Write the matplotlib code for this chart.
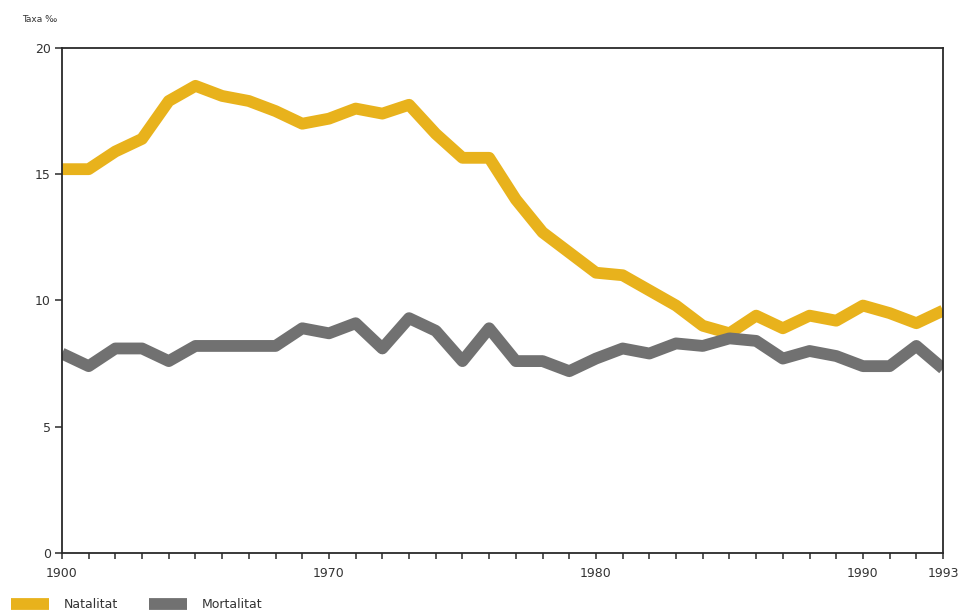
import matplotlib.pyplot as plt
import numpy as np

# anys i taxes (per mil)
anys = list(range(1960, 1994))
natalitat = [15.2, 15.2, 15.9, 16.4, 17.9, 18.5, 18.1, 17.9, 17.5, 17.0,
             17.2, 17.6, 17.4, 17.75, 16.6, 15.65, 15.65, 14.0, 12.7, 11.9,
             11.1, 11.0, 10.4, 9.8, 9.0, 8.7, 9.4, 8.9, 9.4, 9.2,
             9.8, 9.5, 9.1, 9.6]
mortalitat = [7.9, 7.4, 8.1, 8.1, 7.6, 8.2, 8.2, 8.2, 8.2, 8.9,
              8.7, 9.1, 8.1, 9.3, 8.8, 7.6, 8.9, 7.6, 7.6, 7.2,
              7.7, 8.1, 7.9, 8.3, 8.2, 8.5, 8.4, 7.7, 8.0, 7.8,
              7.4, 7.4, 8.2, 7.3]

etiquetesAnys = {1960: "1900", 1970: "1970", 1980: "1980", 1990: "1990", 1993: "1993"}

colorNat = "#E8B21C"
colorMort = "#717171"

fig = plt.figure(figsize=(9.62, 6.11), dpi=100)
ax = fig.add_axes([0.0644, 0.0949, 0.9159, 0.8266])

ax.plot(anys, natalitat, color=colorNat, linewidth=8.5, solid_joinstyle="round",
        solid_capstyle="butt", label="Natalitat")
ax.plot(anys, mortalitat, color=colorMort, linewidth=8.5, solid_joinstyle="round",
        solid_capstyle="butt", label="Mortalitat")

ax.set_xlim(1960, 1993)
ax.set_ylim(0, 20)
ax.set_yticks([0, 5, 10, 15, 20])
ax.set_xticks(anys)
ax.set_xticklabels([etiquetesAnys.get(a, "") for a in anys])

for s in ax.spines.values():
    s.set_color("#2a2a2a")
    s.set_linewidth(1.3)
ax.tick_params(axis="both", direction="out", length=5, width=1.1, color="#2a2a2a",
               labelsize=9, labelcolor="#333333", pad=3)
ax.tick_params(axis="x", length=4, pad=6)

fig.text(0.023, 0.968, "Taxa ‰", fontsize=6.5, color="#333333", va="center")

ax.legend(loc="lower left", bbox_to_anchor=(-0.063, -0.125), ncol=2, frameon=False,
          fontsize=9, handlelength=3.0, handletextpad=1.2, columnspacing=2.5,
          labelcolor="#333333", borderaxespad=0)

fig.savefig("out.png", dpi=100)
